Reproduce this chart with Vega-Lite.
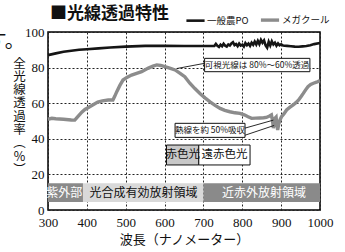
{
  "$schema": "https://vega.github.io/schema/vega-lite/v6.json",
  "width": 272,
  "height": 178,
  "autosize": {"type": "none"},
  "padding": {"left": 48, "top": 32, "right": 25, "bottom": 42},
  "background": "white",
  "config": {
    "view": {"stroke": "#000", "strokeWidth": 1.5},
    "font": "Noto Sans CJK JP",
    "axis": {"labelOverlap": false, "labelFlush": false},
    "legend": {
      "orient": "none", "legendX": 137, "legendY": -23, "direction": "horizontal",
      "symbolType": "stroke", "symbolSize": 330, "symbolStrokeWidth": 3,
      "labelFont": "Noto Sans CJK JP", "labelFontSize": 9.5, "labelColor": "#111",
      "columnPadding": 5, "labelOffset": 1, "padding": 0
    }
  },
  "title": {"text": "■光線透過特性", "anchor": "start", "frame": "group", "dx": 2, "fontSize": 17, "fontWeight": "bold", "font": "Noto Sans CJK JP", "offset": -14, "color": "#111"},
  "datasets": {
    "curves": [
      {"x":300,"y":87,"s":"一般農PO"},{"x":320,"y":88,"s":"一般農PO"},{"x":340,"y":88.9,"s":"一般農PO"},{"x":360,"y":89.5,"s":"一般農PO"},{"x":380,"y":90,"s":"一般農PO"},{"x":400,"y":90.3,"s":"一般農PO"},{"x":430,"y":90.8,"s":"一般農PO"},{"x":460,"y":91.3,"s":"一般農PO"},{"x":500,"y":91.8,"s":"一般農PO"},{"x":550,"y":92.2,"s":"一般農PO"},{"x":600,"y":92.2,"s":"一般農PO"},{"x":650,"y":92.1,"s":"一般農PO"},{"x":700,"y":92.1,"s":"一般農PO"},{"x":728,"y":92.1,"s":"一般農PO"},{"x":732,"y":93.3,"s":"一般農PO"},{"x":736,"y":92.2,"s":"一般農PO"},{"x":740,"y":91.6,"s":"一般農PO"},{"x":744,"y":92.8,"s":"一般農PO"},{"x":748,"y":92,"s":"一般農PO"},{"x":752,"y":93.4,"s":"一般農PO"},{"x":756,"y":92.3,"s":"一般農PO"},{"x":760,"y":91.8,"s":"一般農PO"},{"x":764,"y":93,"s":"一般農PO"},{"x":768,"y":92.4,"s":"一般農PO"},{"x":772,"y":93.6,"s":"一般農PO"},{"x":776,"y":94.3,"s":"一般農PO"},{"x":780,"y":92.6,"s":"一般農PO"},{"x":784,"y":93.2,"s":"一般農PO"},{"x":788,"y":92,"s":"一般農PO"},{"x":792,"y":93.5,"s":"一般農PO"},{"x":796,"y":92.4,"s":"一般農PO"},{"x":800,"y":92.9,"s":"一般農PO"},{"x":804,"y":91.8,"s":"一般農PO"},{"x":808,"y":93.8,"s":"一般農PO"},{"x":812,"y":92.6,"s":"一般農PO"},{"x":816,"y":93.5,"s":"一般農PO"},{"x":820,"y":92.2,"s":"一般農PO"},{"x":824,"y":94,"s":"一般農PO"},{"x":828,"y":92.8,"s":"一般農PO"},{"x":832,"y":94.6,"s":"一般農PO"},{"x":836,"y":93,"s":"一般農PO"},{"x":840,"y":95,"s":"一般農PO"},{"x":844,"y":93.2,"s":"一般農PO"},{"x":848,"y":95.6,"s":"一般農PO"},{"x":852,"y":94,"s":"一般農PO"},{"x":856,"y":95.3,"s":"一般農PO"},{"x":860,"y":92.5,"s":"一般農PO"},{"x":864,"y":91.2,"s":"一般農PO"},{"x":868,"y":94.5,"s":"一般農PO"},{"x":872,"y":92.4,"s":"一般農PO"},{"x":876,"y":94.8,"s":"一般農PO"},{"x":880,"y":93,"s":"一般農PO"},{"x":884,"y":94,"s":"一般農PO"},{"x":888,"y":92.3,"s":"一般農PO"},{"x":892,"y":93.6,"s":"一般農PO"},{"x":896,"y":92.5,"s":"一般農PO"},{"x":900,"y":93.1,"s":"一般農PO"},{"x":905,"y":92.4,"s":"一般農PO"},{"x":915,"y":92.2,"s":"一般農PO"},{"x":925,"y":92,"s":"一般農PO"},{"x":935,"y":91.8,"s":"一般農PO"},{"x":945,"y":91.7,"s":"一般農PO"},{"x":955,"y":91.9,"s":"一般農PO"},{"x":965,"y":92.1,"s":"一般農PO"},{"x":975,"y":92.6,"s":"一般農PO"},{"x":985,"y":93.2,"s":"一般農PO"},{"x":1000,"y":93.8,"s":"一般農PO"},
      {"x":300,"y":51,"s":"メガクール"},{"x":310,"y":51.5,"s":"メガクール"},{"x":320,"y":51.3,"s":"メガクール"},{"x":340,"y":51,"s":"メガクール"},{"x":360,"y":50.6,"s":"メガクール"},{"x":369,"y":50.5,"s":"メガクール"},{"x":375,"y":52,"s":"メガクール"},{"x":387,"y":55,"s":"メガクール"},{"x":395,"y":56.5,"s":"メガクール"},{"x":403,"y":57.5,"s":"メガクール"},{"x":415,"y":59,"s":"メガクール"},{"x":428,"y":60.6,"s":"メガクール"},{"x":440,"y":61.3,"s":"メガクール"},{"x":455,"y":61.8,"s":"メガクール"},{"x":467,"y":61.8,"s":"メガクール"},{"x":472,"y":64,"s":"メガクール"},{"x":477,"y":66.5,"s":"メガクール"},{"x":485,"y":70,"s":"メガクール"},{"x":493,"y":73,"s":"メガクール"},{"x":503,"y":74.5,"s":"メガクール"},{"x":515,"y":75.8,"s":"メガクール"},{"x":528,"y":76.8,"s":"メガクール"},{"x":541,"y":77.7,"s":"メガクール"},{"x":557,"y":79.6,"s":"メガクール"},{"x":570,"y":80.8,"s":"メガクール"},{"x":580,"y":81.5,"s":"メガクール"},{"x":590,"y":81.2,"s":"メガクール"},{"x":601,"y":80.6,"s":"メガクール"},{"x":615,"y":79.6,"s":"メガクール"},{"x":627,"y":78.7,"s":"メガクール"},{"x":640,"y":76.8,"s":"メガクール"},{"x":652,"y":74.9,"s":"メガクール"},{"x":665,"y":71.2,"s":"メガクール"},{"x":678,"y":68.2,"s":"メガクール"},{"x":691,"y":65.5,"s":"メガクール"},{"x":704,"y":63,"s":"メガクール"},{"x":717,"y":60.8,"s":"メガクール"},{"x":730,"y":58.8,"s":"メガクール"},{"x":743,"y":57.1,"s":"メガクール"},{"x":755,"y":56,"s":"メガクール"},{"x":768,"y":55.2,"s":"メガクール"},{"x":781,"y":54.6,"s":"メガクール"},{"x":794,"y":54.3,"s":"メガクール"},{"x":805,"y":53.5,"s":"メガクール"},{"x":815,"y":52.4,"s":"メガクール"},{"x":824,"y":51.5,"s":"メガクール"},{"x":835,"y":51.6,"s":"メガクール"},{"x":845,"y":51.7,"s":"メガクール"},{"x":855,"y":51.8,"s":"メガクール"},{"x":862,"y":52,"s":"メガクール"},{"x":870,"y":52.8,"s":"メガクール"},{"x":875,"y":53.4,"s":"メガクール"},{"x":878,"y":50,"s":"メガクール"},{"x":880,"y":46,"s":"メガクール"},{"x":884,"y":51.5,"s":"メガクール"},{"x":887,"y":52.2,"s":"メガクール"},{"x":889,"y":48,"s":"メガクール"},{"x":891,"y":45,"s":"メガクール"},{"x":894,"y":48.5,"s":"メガクール"},{"x":897,"y":50.6,"s":"メガクール"},{"x":901,"y":52.4,"s":"メガクール"},{"x":907,"y":54,"s":"メガクール"},{"x":914,"y":56.2,"s":"メガクール"},{"x":922,"y":57.6,"s":"メガクール"},{"x":931,"y":59,"s":"メガクール"},{"x":938,"y":60.3,"s":"メガクール"},{"x":945,"y":61.8,"s":"メガクール"},{"x":951,"y":63.6,"s":"メガクール"},{"x":957,"y":65.5,"s":"メガクール"},{"x":963,"y":67.5,"s":"メガクール"},{"x":969,"y":69.3,"s":"メガクール"},{"x":976,"y":70.5,"s":"メガクール"},{"x":983,"y":71.2,"s":"メガクール"},{"x":991,"y":71.8,"s":"メガクール"},{"x":1000,"y":72.7,"s":"メガクール"}
    ],
    "bands": [
      {"x":300,"x2":390,"y":4.5,"y2":15,"tone":"dark"},
      {"x":390,"x2":700,"y":4.5,"y2":15,"tone":"light"},
      {"x":700,"x2":1000,"y":4.5,"y2":15,"tone":"dark"}
    ],
    "bandLabels": [
      {"label":"紫外部","x":342,"y":9.8,"tone":"dark"},
      {"label":"光合成有効放射領域","x":546,"y":9.8,"tone":"light"},
      {"label":"近赤外放射領域","x":856,"y":9.8,"tone":"dark"}
    ],
    "boxes": [
      {"x":703,"x2":974,"y":77.7,"y2":85.2,"tone":"white"},
      {"x":627,"x2":807,"y":40.8,"y2":48.7,"tone":"white"},
      {"x":605,"x2":688,"y":25.3,"y2":36.5,"tone":"gray"},
      {"x":688,"x2":820,"y":25.3,"y2":36.5,"tone":"white"}
    ],
    "boxLabels": [
      {"label":"可視光線は 80%〜60%透過","x":838,"y":81.4,"size":"s"},
      {"label":"熱線を約 50%吸収","x":717,"y":44.7,"size":"s"},
      {"label":"赤色光","x":646.5,"y":30.9,"size":"m"},
      {"label":"遠赤色光","x":754,"y":30.9,"size":"m"}
    ],
    "leaders": [
      {"x":632,"y":79.5,"x2":703,"y2":82.4},
      {"x":807,"y":46,"x2":880,"y2":50.5},
      {"x":807,"y":42,"x2":882,"y2":47.5}
    ],
    "edge": [{"label":"す。","x":240,"y":94.5}]
  },
  "encoding": {
    "x": {"field": "x", "type": "quantitative", "scale": {"domain": [300, 1000], "nice": false, "zero": false},
      "axis": {"values": [300,400,500,600,700,800,900,1000], "format": "d", "grid": true, "gridDash": [2,2], "gridColor": "#222", "gridWidth": 1, "domain": false, "ticks": false,
        "labelOverlap": false, "labelFont": "Liberation Sans Narrow", "labelFontSize": 13, "labelColor": "#111", "labelPadding": 6,
        "title": "波長（ナノメーター）", "titleFont": "Noto Sans CJK JP", "titleFontSize": 13, "titleFontWeight": "normal", "titleColor": "#111", "titlePadding": 4}},
    "y": {"field": "y", "type": "quantitative", "scale": {"domain": [0, 100], "nice": false},
      "axis": {"values": [0,20,40,60,80,100], "format": "d", "grid": true, "gridDash": [2,2], "gridColor": "#222", "gridWidth": 1, "domain": false, "ticks": false,
        "labelOverlap": false, "labelFont": "Liberation Sans Narrow", "labelFontSize": 13, "labelColor": "#111", "labelPadding": 4,
        "title": ["全","光","線","透","過","率","︵","%","︶"], "titleAngle": 0, "titleFont": "Noto Sans CJK JP", "titleFontSize": 12.5, "titleLineHeight": 13.3,
        "titleFontWeight": "normal", "titleColor": "#111", "titleX": -29, "titleY": 25, "titleAlign": "center", "titleBaseline": "top"}}
  },
  "layer": [
    {
      "data": {"name": "bands"},
      "mark": {"type": "rect"},
      "encoding": {
        "x2": {"field": "x2"}, "y2": {"field": "y2"},
        "fill": {"field": "tone", "type": "nominal", "scale": {"domain": ["dark", "light", "white", "gray"], "range": ["#8a8a8a", "#d9d9d9", "#ffffff", "#c8c8c8"]}, "legend": null}
      }
    },
    {
      "data": {"name": "bandLabels"},
      "mark": {"type": "text", "fontSize": 12, "font": "Noto Sans CJK JP", "baseline": "middle", "align": "center"},
      "encoding": {
        "text": {"field": "label"},
        "color": {"field": "tone", "type": "nominal", "scale": {"domain": ["dark", "light"], "range": ["#ffffff", "#111111"]}, "legend": null}
      }
    },
    {
      "data": {"name": "curves"},
      "mark": {"type": "line", "interpolate": "linear"},
      "encoding": {
        "stroke": {"field": "s", "type": "nominal", "sort": ["一般農PO", "メガクール"],
          "scale": {"domain": ["一般農PO", "メガクール"], "range": ["#151515", "#8c8c8c"]},
          "legend": {"title": null}},
        "strokeWidth": {"field": "s", "type": "nominal", "scale": {"domain": ["一般農PO", "メガクール"], "range": [2.6, 3.4]}, "legend": null}
      }
    },
    {
      "data": {"name": "leaders"},
      "mark": {"type": "rule", "color": "#111", "strokeWidth": 0.9},
      "encoding": {"x2": {"field": "x2"}, "y2": {"field": "y2"}}
    },
    {
      "data": {"name": "boxes"},
      "mark": {"type": "rect", "stroke": "#111", "strokeWidth": 1},
      "encoding": {
        "x2": {"field": "x2"}, "y2": {"field": "y2"},
        "fill": {"field": "tone", "type": "nominal", "legend": null}
      }
    },
    {
      "data": {"name": "boxLabels"},
      "transform": [{"filter": "datum.size == 's'"}],
      "mark": {"type": "text", "fontSize": 8.5, "font": "Noto Sans CJK JP", "baseline": "middle", "align": "center", "color": "#111"},
      "encoding": {"text": {"field": "label"}}
    },
    {
      "data": {"name": "boxLabels"},
      "transform": [{"filter": "datum.size == 'm'"}],
      "mark": {"type": "text", "fontSize": 11.5, "font": "Noto Sans CJK JP", "baseline": "middle", "align": "center", "color": "#111"},
      "encoding": {"text": {"field": "label"}}
    },
    {
      "data": {"name": "edge"},
      "mark": {"type": "text", "fontSize": 20, "font": "Noto Sans CJK JP", "baseline": "middle", "align": "right", "color": "#111"},
      "encoding": {"text": {"field": "label"}}
    }
  ]
}
